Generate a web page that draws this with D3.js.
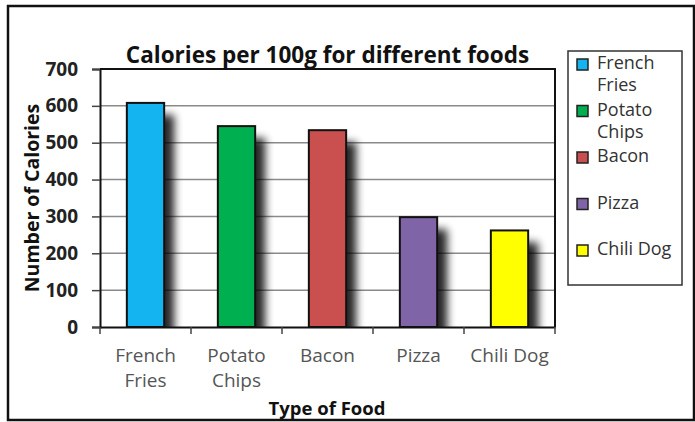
<!DOCTYPE html>
<html>
<head>
<meta charset="utf-8">
<script src="https://cdn.jsdelivr.net/npm/d3@7"></script>
<style>
  body { margin: 0; background: #fff; }
  text { font-family: "Open Sans", sans-serif; }
</style>
</head>
<body>
<svg id="chart" width="695" height="422"></svg>
<script>
// chart data
var foods = ["French Fries", "Potato Chips", "Bacon", "Pizza", "Chili Dog"];
var calories = [608, 545, 534, 298, 262];
var barColors = ["#14b4f0", "#00b050", "#c9504f", "#8064a8", "#ffff00"];
var yTicks = [0, 100, 200, 300, 400, 500, 600, 700];
var labelLines = [["French", "Fries"], ["Potato", "Chips"], ["Bacon"], ["Pizza"], ["Chili Dog"]];

var svg = d3.select("#chart");
var m = {left: 100, top: 69, right: 555, bottom: 327};

// outer frame
svg.append("rect")
  .attr("x", 8).attr("y", 6).attr("width", 686).attr("height", 414)
  .attr("fill", "#fff").attr("stroke", "#111").attr("stroke-width", 2.5);

var x = d3.scaleBand().domain(foods).range([m.left, m.right]).paddingInner(0.59).paddingOuter(0.295);
var xb = d3.scaleBand().domain(foods).range([m.left, m.right]);
var y = d3.scaleLinear().domain([0, 700]).range([m.bottom, m.top]);

var defs = svg.append("defs");
var f = defs.append("filter").attr("id", "shadow")
  .attr("x", "-20%").attr("y", "-20%").attr("width", "200%").attr("height", "150%");
f.append("feGaussianBlur").attr("in", "SourceAlpha").attr("stdDeviation", 4.5);
f.append("feOffset").attr("dx", 10).attr("dy", 12).attr("result", "off");
f.append("feComponentTransfer").append("feFuncA").attr("type", "linear").attr("slope", 0.85);
defs.append("clipPath").attr("id", "plotclip").append("rect")
  .attr("x", m.left).attr("y", m.top).attr("width", m.right - m.left).attr("height", m.bottom - m.top);

// gridlines
svg.append("g").selectAll("line").data(yTicks.slice(1)).join("line")
  .attr("x1", m.left).attr("x2", m.right)
  .attr("y1", d => y(d)).attr("y2", d => y(d))
  .attr("stroke", "#8a8a8a").attr("stroke-width", 1.5);

// shadows
svg.append("g").attr("clip-path", "url(#plotclip)").selectAll("rect").data(foods).join("rect")
  .attr("x", d => x(d)).attr("y", (d, i) => y(calories[i]))
  .attr("width", x.bandwidth()).attr("height", (d, i) => y(0) - y(calories[i]))
  .attr("fill", "#000").attr("filter", "url(#shadow)");

// bars
svg.append("g").selectAll("rect").data(foods).join("rect")
  .attr("x", d => x(d)).attr("y", (d, i) => y(calories[i]))
  .attr("width", x.bandwidth()).attr("height", (d, i) => y(0) - y(calories[i]))
  .attr("fill", (d, i) => barColors[i])
  .attr("stroke", "#111").attr("stroke-width", 2);

// frame of plot area
svg.append("path")
  .attr("d", "M" + m.left + "," + m.top + "H" + m.right + "V" + m.bottom)
  .attr("fill", "none").attr("stroke", "#111").attr("stroke-width", 2);

// axes
var yAxis = svg.append("g").attr("transform", "translate(" + m.left + ",0)")
  .call(d3.axisLeft(y).tickValues(yTicks).tickSize(8).tickPadding(14));
yAxis.select(".domain").attr("stroke", "#111").attr("stroke-width", 2);
yAxis.selectAll(".tick line").attr("stroke", "#444").attr("stroke-width", 1.5);
yAxis.selectAll(".tick text").attr("font-size", 19).attr("font-weight", "bold")
  .attr("fill", "#222").attr("font-family", "Open Sans");

var xAxis = svg.append("g").attr("transform", "translate(0," + m.bottom + ")")
  .call(d3.axisBottom(xb).tickValues([]).tickSizeOuter(0));
xAxis.select(".domain").attr("stroke", "#111").attr("stroke-width", 2);
xAxis.selectAll("line.sep").data(foods).join("line")
  .attr("class", "sep")
  .attr("x1", d => xb(d) + xb.bandwidth()).attr("x2", d => xb(d) + xb.bandwidth())
  .attr("y1", 0).attr("y2", 7).attr("stroke", "#444").attr("stroke-width", 1.5);
svg.append("line").attr("x1", m.left).attr("x2", m.left).attr("y1", m.bottom).attr("y2", m.bottom + 7)
  .attr("stroke", "#444").attr("stroke-width", 1.5);

// category labels, wrapped
var cats = svg.append("g").selectAll("text").data(foods).join("text")
  .attr("text-anchor", "middle").attr("font-size", 19).attr("fill", "#555")
  .attr("transform", d => "translate(" + (xb(d) + xb.bandwidth() / 2) + ",361.5)");
cats.selectAll("tspan").data((d, i) => labelLines[i]).join("tspan")
  .attr("x", 0).attr("y", (d, j) => j * 25).text(d => d);

// titles
svg.append("text").attr("x", 327.5).attr("y", 63).attr("text-anchor", "middle")
  .attr("font-size", 22.5).attr("font-weight", "bold").attr("fill", "#111")
  .text("Calories per 100g for different foods");
svg.append("text").attr("x", 327).attr("y", 415).attr("text-anchor", "middle")
  .attr("font-size", 18.5).attr("font-weight", "bold").attr("fill", "#111")
  .text("Type of Food");
svg.append("text").attr("transform", "translate(39,198) rotate(-90)").attr("text-anchor", "middle")
  .attr("font-size", 19.5).attr("font-weight", "bold").attr("fill", "#111")
  .text("Number of Calories");

// legend
var lg = svg.append("g");
lg.append("rect").attr("x", 568).attr("y", 51).attr("width", 114).attr("height", 234)
  .attr("fill", "#fff").attr("stroke", "#333").attr("stroke-width", 1.5);
var ent = lg.selectAll("g.entry").data(foods).join("g").attr("class", "entry")
  .attr("transform", (d, i) => "translate(577," + (64 + i * 46.5) + ")");
ent.append("rect").attr("x", 0).attr("y", -5).attr("width", 11).attr("height", 11)
  .attr("fill", (d, i) => barColors[i]).attr("stroke", "#222").attr("stroke-width", 1.5);
ent.append("text").attr("x", 20).attr("y", 5).attr("font-size", 18).attr("fill", "#333")
  .selectAll("tspan").data((d, i) => labelLines[i])
  .join("tspan").attr("x", 20).attr("dy", (d, j) => j ? 22 : 0).text(d => d);
</script>
</body>
</html>
